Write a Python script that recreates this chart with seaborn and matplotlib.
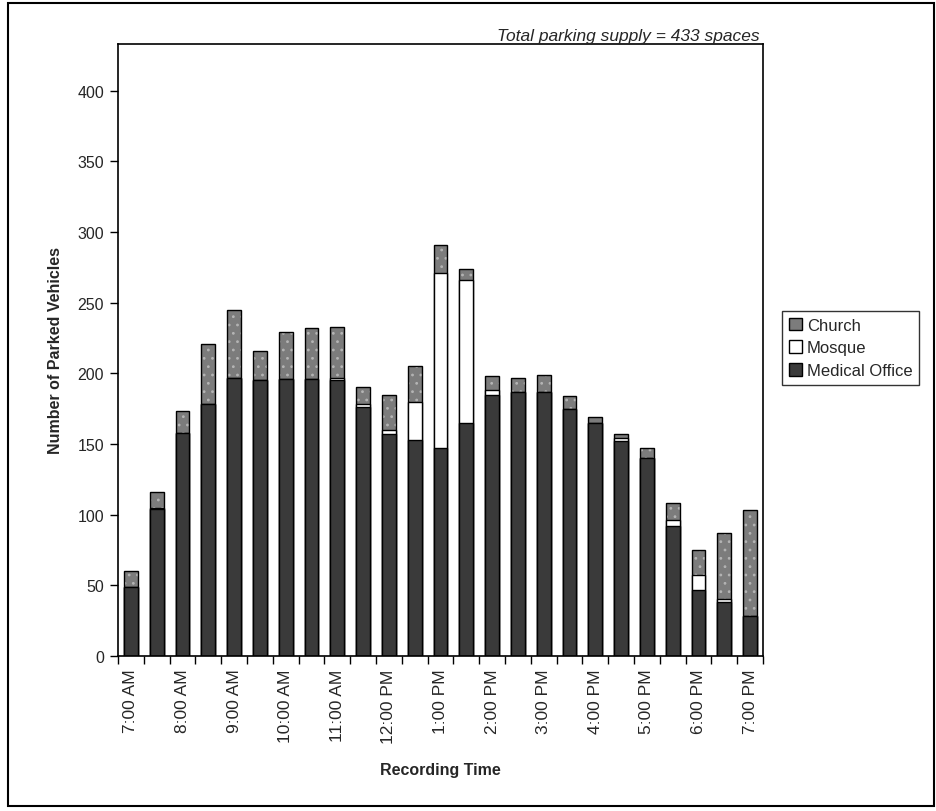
import numpy as np
import pandas as pd
import matplotlib
matplotlib.use("Agg")
import matplotlib.pyplot as plt
import seaborn as sns
from matplotlib.patches import Patch, Rectangle

# Half-hourly parking counts by land use
times = ["7:00 AM", "7:30 AM", "8:00 AM", "8:30 AM", "9:00 AM", "9:30 AM",
         "10:00 AM", "10:30 AM", "11:00 AM", "11:30 AM", "12:00 PM", "12:30 PM",
         "1:00 PM", "1:30 PM", "2:00 PM", "2:30 PM", "3:00 PM", "3:30 PM",
         "4:00 PM", "4:30 PM", "5:00 PM", "5:30 PM", "6:00 PM", "6:30 PM", "7:00 PM"]
medical = [49, 104, 158, 178, 197, 195, 196, 196, 195, 176, 157, 153,
           147, 165, 185, 187, 187, 175, 165, 152, 140, 92, 47, 38, 28]
mosque = [0, 1, 0, 0, 0, 0, 0, 0, 2, 2, 3, 27,
          124, 101, 3, 0, 0, 0, 0, 2, 0, 4, 10, 2, 0]
church = [11, 11, 15, 43, 48, 21, 33, 36, 36, 12, 25, 25,
          20, 8, 10, 10, 12, 9, 4, 3, 7, 12, 18, 47, 75]
y_ticks = [0, 50, 100, 150, 200, 250, 300, 350, 400]
supply = 433

sns.set_theme(style="white")
plt.rcParams["font.family"] = ["Liberation Sans", "DejaVu Sans"]
plt.rcParams["hatch.linewidth"] = 0.8

df = pd.DataFrame({"time": times, "medical": medical,
                   "mosque": mosque, "church": church})
df["mosque_top"] = df["medical"] + df["mosque"]
df["total"] = df["mosque_top"] + df["church"]

church_c = "#7c7c7c"
church_speck = "#b4b4b4"
mosque_c = "#ffffff"
medical_c = "#3a3a3a"
bar_w = 0.54

fig = plt.figure(figsize=(9.37, 8.12), dpi=100)
ax = fig.add_axes([118 / 937, 1 - 657 / 812, (763 - 118) / 937, (657 - 45) / 812])

common = dict(x="time", order=times, width=bar_w, saturation=1, ax=ax,
              errorbar=None)
# church layer: speckled grey fill, then a black outline on top
sns.barplot(data=df, y="total", color=church_c, hatch="..",
            edgecolor=church_speck, linewidth=0, **common)
sns.barplot(data=df, y="total", fill=False, color="black",
            linewidth=1.0, **common)
sns.barplot(data=df, y="mosque_top", color=mosque_c, edgecolor="black",
            linewidth=1.0, **common)
sns.barplot(data=df, y="medical", color=medical_c, edgecolor="black",
            linewidth=1.0, **common)

ax.set_xlim(-0.5, len(times) - 0.5)
ax.set_ylim(0, supply)
ax.set_yticks(y_ticks)
ax.set_yticklabels([str(v) for v in y_ticks], fontsize=11.5)
ax.set_xticks(range(0, len(times), 2))
ax.set_xticklabels(times[::2], rotation=90, fontsize=12.5)
ax.set_xticks(np.arange(-0.5, len(times), 1), minor=True)
ax.tick_params(axis="x", which="major", length=0, pad=9)
ax.tick_params(axis="x", which="minor", length=6, width=1, color="black",
               direction="out", bottom=True)
ax.tick_params(axis="y", length=6, width=1, color="black",
               direction="out", left=True, pad=4)

for s in ax.spines.values():
    s.set_color("black")
    s.set_linewidth(1.2)

ax.set_xlabel("Recording Time", fontsize=11.5, fontweight="bold", labelpad=14)
ax.set_ylabel("Number of Parked Vehicles", fontsize=11.5, fontweight="bold",
              labelpad=10)

fig.text(760 / 937, 1 - 36 / 812, f"Total parking supply = {supply} spaces",
         ha="right", va="center", fontsize=12.5, style="italic")

handles = [Patch(facecolor=church_c, edgecolor="black", label="Church"),
           Patch(facecolor=mosque_c, edgecolor="black", label="Mosque"),
           Patch(facecolor=medical_c, edgecolor="black", label="Medical Office")]
leg = fig.legend(handles=handles, loc="upper left",
                 bbox_to_anchor=(782 / 937, 1 - 312 / 812), frameon=True,
                 fancybox=False, edgecolor="black", fontsize=12,
                 handlelength=0.8, handleheight=0.8, handletextpad=0.3,
                 labelspacing=0.45, borderpad=0.4, borderaxespad=0)
leg.get_frame().set_linewidth(1.0)

fig.patches.append(Rectangle((8 / 937, 5 / 812), 926 / 937, 803 / 812,
                             transform=fig.transFigure, fill=False,
                             edgecolor="black", linewidth=1.5))

fig.savefig("out.png", dpi=100, facecolor="white")
